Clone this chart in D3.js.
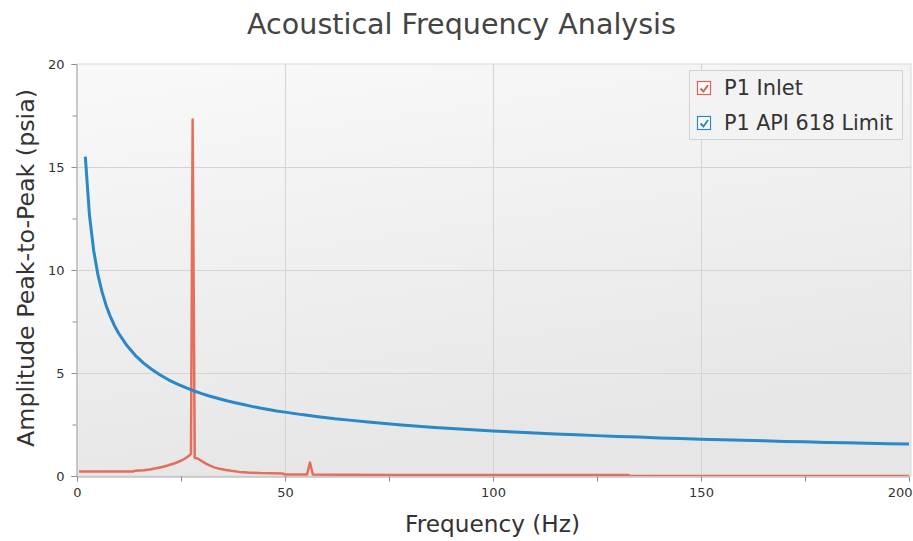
<!DOCTYPE html>
<html><head><meta charset="utf-8">
<script src="https://cdn.jsdelivr.net/npm/d3@7"></script>
<style>body{margin:0;background:#fff;} svg{display:block;}</style>
</head><body>
<svg id="c" width="913" height="541"></svg>
<script>
// ---- data ----
const inletFreq = [0.5,13.5,14,16,17.5,19,20.5,22,23.5,25,26,27,27.4,27.8,28.3,29,30,31,32,33,34,35.5,37,39,41,44,49.5,50,55.3,56,56.7,75,132.5,133,200];
const inletAmp  = [0.22,0.22,0.26,0.28,0.32,0.38,0.44,0.52,0.62,0.74,0.85,1.0,1.08,17.3,0.88,0.85,0.72,0.6,0.5,0.42,0.36,0.3,0.25,0.2,0.17,0.14,0.12,0.07,0.07,0.65,0.07,0.05,0.05,0,0];
const limitFreq = [2,3,4,5,6,7,8,9,10,12,14,16,18,20,22,24,26,28,30,32,34,36,38,40,42,44,46,48,50,54,58,62,66,70,74,78,82,86,90,95,100,105,110,115,120,125,130,135,140,145,150,155,160,165,170,175,180,185,190,195,200];
const limitAmp  = [15.5,12.65,10.96,9.8,8.95,8.28,7.75,7.3,6.93,6.33,5.86,5.48,5.17,4.9,4.67,4.47,4.3,4.14,4.0,3.87,3.76,3.65,3.56,3.47,3.38,3.3,3.23,3.16,3.1,2.98,2.88,2.78,2.7,2.62,2.55,2.48,2.42,2.36,2.31,2.25,2.19,2.14,2.09,2.04,2.0,1.96,1.92,1.89,1.85,1.82,1.79,1.76,1.73,1.71,1.68,1.66,1.63,1.61,1.59,1.57,1.55];
const seriesNames = ["P1 Inlet","P1 API 618 Limit"];
const seriesColors = ["#e2604b","#2a87c8"];
const xTicks = [0,50,100,150,200];
const yTicks = [0,5,10,15,20];
const xMinor = [25,75,125,175];
const yMinor = [2.5,7.5,12.5,17.5];
const titleText = "Acoustical Frequency Analysis";
const xLabel = "Frequency (Hz)";
const yLabel = "Amplitude Peak-to-Peak (psia)";

// ---- layout ----
const FONT = "'DejaVu Sans', Verdana, sans-serif";
const L = 77, R = 909, T = 64, B = 476;
const svg = d3.select("#c");
const x = d3.scaleLinear().domain([0,200]).range([L,R]);
const y = d3.scaleLinear().domain([0,20]).range([B,T]);

function fit(sel, target){
  const w = sel.node().getComputedTextLength();
  const fs = parseFloat(sel.attr("font-size"));
  sel.attr("font-size", (fs*target/w).toFixed(2));
}

const defs = svg.append("defs");
const g = defs.append("linearGradient").attr("id","bg").attr("x1","0").attr("y1","0").attr("x2","0.3").attr("y2","1");
g.append("stop").attr("offset","0").attr("stop-color","#f9f9f9");
g.append("stop").attr("offset","1").attr("stop-color","#e6e6e6");
defs.append("clipPath").attr("id","clip").append("rect").attr("x",L).attr("y",T-2).attr("width",R-L+2).attr("height",B-T+2);

// plot background + frame
svg.append("rect").attr("x",L).attr("y",T).attr("width",R-L+2).attr("height",B-T).attr("fill","url(#bg)").attr("stroke","#d9d9d9").attr("stroke-width",1);

// grid
svg.append("g").selectAll("line").data(xTicks.filter(d=>d>0&&d<200)).join("line")
  .attr("x1",d=>Math.round(x(d))+0.5).attr("x2",d=>Math.round(x(d))+0.5).attr("y1",T).attr("y2",B)
  .attr("stroke","#d4d4d4");
svg.append("g").selectAll("line").data(yTicks.filter(d=>d>0&&d<20)).join("line")
  .attr("y1",d=>Math.round(y(d))+0.5).attr("y2",d=>Math.round(y(d))+0.5).attr("x1",L).attr("x2",R+2)
  .attr("stroke","#d4d4d4");

// axes
const xAxis = d3.axisBottom(x).tickValues(xTicks).tickSize(5).tickPadding(6).tickFormat(d3.format("d"));
const gx = svg.append("g").attr("transform",`translate(0,${B+0.5})`).call(xAxis);
svg.append("g").attr("transform",`translate(0,${B+0.5})`).call(d3.axisBottom(x).tickValues(xMinor).tickSize(5).tickFormat(""))
  .call(s=>s.select(".domain").remove());
const yAxis = d3.axisLeft(y).tickValues(yTicks).tickSize(5).tickPadding(7).tickFormat(d3.format("d"));
const gy = svg.append("g").attr("transform",`translate(${L-0.5},0)`).call(yAxis);
svg.append("g").attr("transform",`translate(${L-0.5},0)`).call(d3.axisLeft(y).tickValues(yMinor).tickSize(4).tickFormat(""))
  .call(s=>s.select(".domain").remove());
svg.selectAll(".domain").attr("stroke","#a6a6a6");
svg.selectAll(".tick line").attr("stroke","#8c8c8c");
svg.selectAll(".tick text").attr("font-family",FONT).attr("font-size",13).attr("fill","#333");
// last x label sits at the window edge, as in the reference; keep it inside
gx.selectAll(".tick").filter(d=>d===200).select("text").attr("text-anchor","end").attr("dx","3");

// lines
const plot = svg.append("g").attr("clip-path","url(#clip)");
const line = d3.line().x(d=>x(d[0])).y(d=>y(d[1]));
const inlet = inletFreq.map((f,i)=>[f,inletAmp[i]]);
const limit = limitFreq.map((f,i)=>[f,limitAmp[i]]);
plot.append("path").datum(inlet).attr("d",line).attr("fill","none")
  .attr("stroke",seriesColors[0]).attr("stroke-width",2.5).attr("stroke-opacity",0.9).attr("stroke-linejoin","round");
plot.append("path").datum(limit).attr("d",line).attr("fill","none")
  .attr("stroke",seriesColors[1]).attr("stroke-width",3).attr("stroke-linejoin","round");

// title and labels
const t = svg.append("text").attr("x",461.5).attr("y",34).attr("text-anchor","middle")
  .attr("font-family",FONT).attr("font-size",28).attr("fill","#444").text(titleText);
fit(t,429);
const xl = svg.append("text").attr("x",492.5).attr("y",532).attr("text-anchor","middle")
  .attr("font-family",FONT).attr("font-size",22).attr("fill","#333").text(xLabel);
fit(xl,175);
const yl = svg.append("text").attr("transform","translate(34,268) rotate(-90)").attr("text-anchor","middle")
  .attr("font-family",FONT).attr("font-size",22).attr("fill","#333").text(yLabel);
fit(yl,358);

// legend
const lg = svg.append("g");
lg.append("rect").attr("x",689.5).attr("y",70.5).attr("width",213).attr("height",69)
  .attr("fill","#f3f3f3").attr("stroke","#d2d2d2");
seriesNames.forEach((name,i)=>{
  const cy = 88 + i*35;
  lg.append("rect").attr("x",697.5).attr("y",cy-6.5).attr("width",13).attr("height",13)
    .attr("fill","#fff").attr("stroke",seriesColors[i]).attr("stroke-width",1.2);
  lg.append("path").attr("d",`M${700.5},${cy+0.5} L${703.5},${cy+3.5} L${708},${cy-3}`)
    .attr("fill","none").attr("stroke",seriesColors[i]).attr("stroke-width",2);
  const tx = lg.append("text").attr("x",724).attr("y",cy+7).attr("font-family",FONT)
    .attr("font-size",19).attr("fill","#333").text(name);
  if(i===1) fit(tx,169); else fit(tx,79);
});
</script>
</body></html>
